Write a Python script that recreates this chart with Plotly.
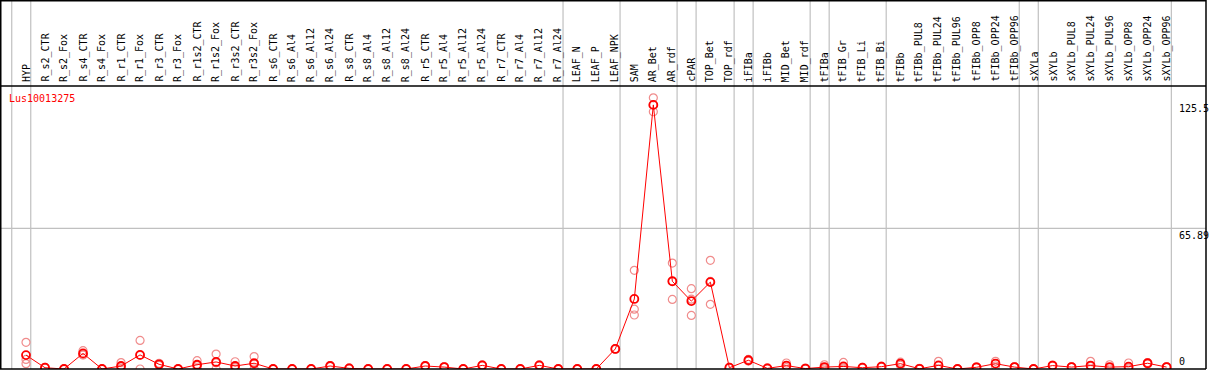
import plotly.graph_objects as go

categories = ["HYP", "R_s2_CTR", "R_s2_Fox", "R_s4_CTR", "R_s4_Fox", "R_r1_CTR", "R_r1_Fox",
              "R_r3_CTR", "R_r3_Fox", "R_r1s2_CTR", "R_r1s2_Fox", "R_r3s2_CTR", "R_r3s2_Fox",
              "R_s6_CTR", "R_s6_Al4", "R_s6_Al12", "R_s6_Al24", "R_s8_CTR", "R_s8_Al4", "R_s8_Al12",
              "R_s8_Al24", "R_r5_CTR", "R_r5_Al4", "R_r5_Al12", "R_r5_Al24", "R_r7_CTR", "R_r7_Al4",
              "R_r7_Al12", "R_r7_Al24", "LEAF_N", "LEAF_P", "LEAF_NPK", "SAM", "AR_Bet", "AR_rdf",
              "cPAR", "TOP_Bet", "TOP_rdf", "iFIBa", "iFIBb", "MID_Bet", "MID_rdf", "tFIBa",
              "tFIB_Gr", "tFIB_Li", "tFIB_Bi", "tFIBb", "tFIBb_PUL8", "tFIBb_PUL24", "tFIBb_PUL96",
              "tFIBb_OPP8", "tFIBb_OPP24", "tFIBb_OPP96", "sXYLa", "sXYLb", "sXYLb_PUL8",
              "sXYLb_PUL24", "sXYLb_PUL96", "sXYLb_OPP8", "sXYLb_OPP24", "sXYLb_OPP96"]

mean_values = [6.5, 0.6, 0, 7.3, 0, 1.4, 6.6, 2.2, 0, 2.0, 3.3, 1.4, 2.7,
               0, 0, 0, 1.4, 0.3, 0, 0, 0, 1.4, 0.9, 0, 1.7, 0, 0, 1.7, 0,
               0, 0, 9.4, 32.8, 123.7, 41.1, 31.8, 40.7, 0.6, 4.1, 0.3, 1.6, 0.2, 0.9,
               1.2, 0.6, 1.1, 2.5, 0.1, 1.7, 0, 0.8, 2.5, 0.9, 0, 1.6, 0.9,
               1.6, 0.9, 1.1, 2.7, 0.9]

rep1 = [12.5, 0.8, 0, 8.6, 0, 3.0, 13.4, 2.7, 0, 3.9, 7.0, 3.4, 5.8,
        0, 0, 0, 1.6, 0.5, 0, 0, 0, 1.6, 1.1, 0, 1.9, 0, 0, 1.9, 0,
        0, 0, 9.6, 46.2, 127.0, 49.6, 37.6, 50.9, 0.8, 4.5, 0.5, 2.8, 0.4, 2.0,
        3.1, 0.8, 1.3, 3.2, 0.3, 3.6, 0, 1.0, 3.6, 1.1, 0, 1.8, 1.1,
        3.6, 2.0, 2.8, 3.0, 1.1]
rep2 = [4.5, 0.6, 0, 6.7, 0, 1.0, 6.4, 2.2, 0, 1.6, 2.9, 0.8, 2.3,
        0, 0, 0, 1.4, 0.3, 0, 0, 0, 1.4, 0.9, 0, 1.7, 0, 0, 1.7, 0,
        0, 0, 9.4, 28.0, 123.7, 41.1, 32.7, 41.0, 0.6, 4.1, 0.3, 1.4, 0.2, 0.6,
        0.5, 0.6, 1.1, 2.5, 0.1, 1.5, 0, 0.8, 2.5, 0.9, 0, 1.6, 0.9,
        1.2, 0.7, 0.5, 2.7, 0.9]
rep3 = [2.5, 0.4, 0, 6.6, 0, 0.2, 0, 1.7, 0, 0.5, 0, 0, 0,
        0, 0, 0, 1.2, 0.1, 0, 0, 0, 1.2, 0.7, 0, 1.5, 0, 0, 1.5, 0,
        0, 0, 9.2, 25.3, 120.5, 32.6, 25.1, 30.3, 0.4, 3.7, 0.1, 0.6, 0, 0.1,
        0, 0.4, 0.9, 1.8, 0, 0, 0, 0.6, 1.4, 0.7, 0, 1.4, 0.7,
        0, 0, 0, 2.4, 0.7]

gene_label = "Lus10013275"
ytick_values = [125.5, 65.89, 0]
ytick_labels = ["125.5", "65.89", "0"]
group_separators = [-0.75, 0.25, 28.25, 31.25, 34.25, 35.25, 37.25, 38.25, 41.25, 42.25,
                    45.25, 52.25, 53.25, 60.25]

W, H = 1209, 370
x0px, step = 26.0, 19.01
plot_top, plot_bot = 86, 369
ppu = 2.135
FONT = "DejaVu Sans Mono"

xs = list(range(len(categories)))
fig = go.Figure()

rx, ry = [], []
for rep in (rep1, rep2, rep3):
    rx += xs
    ry += rep
fig.add_trace(go.Scatter(x=rx, y=ry, mode="markers",
                         marker=dict(symbol="circle-open", size=8, color="rgb(240,140,140)",
                                     line=dict(width=1.2, color="rgb(240,140,140)")),
                         hoverinfo="skip"))
fig.add_trace(go.Scatter(x=xs, y=mean_values, mode="lines+markers",
                         line=dict(color="#ff0000", width=1),
                         marker=dict(symbol="circle-open", size=8, color="#ff0000",
                                     line=dict(width=1.8, color="#ff0000"))))

xr = [-x0px / step, (W - x0px) / step]
yr = [0, (plot_bot - plot_top) / ppu]

shapes = []
for s in group_separators:
    shapes.append(dict(type="line", xref="x", yref="paper", x0=s, x1=s, y0=1 - plot_bot / H, y1=1,
                       line=dict(color="#c0c0c0", width=1.2), layer="below"))
shapes.append(dict(type="line", xref="paper", yref="y", x0=0, x1=1206 / W, y0=65.89, y1=65.89,
                   line=dict(color="#c0c0c0", width=1.2), layer="below"))
for ypx in (0.75, plot_top, plot_bot):
    shapes.append(dict(type="line", xref="paper", yref="paper", x0=0, x1=1206 / W,
                       y0=1 - ypx / H, y1=1 - ypx / H, line=dict(color="black", width=1.5)))
shapes.append(dict(type="line", xref="paper", yref="paper", x0=0.75 / W, x1=0.75 / W,
                   y0=1 - plot_bot / H, y1=1, line=dict(color="black", width=1.5)))
shapes.append(dict(type="line", xref="paper", yref="paper", x0=1206 / W, x1=1206 / W,
                   y0=1 - plot_bot / H, y1=1, line=dict(color="black", width=1.5)))

annotations = []
for i, c in enumerate(categories):
    annotations.append(dict(x=i, y=1 - 84 / H, xref="x", yref="paper", text=c, textangle=-90,
                            xanchor="center", yanchor="bottom", showarrow=False,
                            font=dict(family=FONT, size=10, color="black")))
annotations.append(dict(x=7 / W, y=1 - 91 / H, xref="paper", yref="paper", text=gene_label,
                        xanchor="left", yanchor="top", showarrow=False,
                        font=dict(family=FONT, size=10, color="#ff0000")))
for v, t in zip(ytick_values, ytick_labels):
    annotations.append(dict(x=1177 / W, y=v, xref="paper", yref="y", text=t,
                            xanchor="left", yanchor="bottom" if v == 0 else "top",
                            showarrow=False, font=dict(family=FONT, size=10, color="black")))

fig.update_layout(width=W, height=H, margin=dict(l=0, r=0, t=0, b=0),
                  paper_bgcolor="white", plot_bgcolor="white", showlegend=False,
                  xaxis=dict(range=xr, visible=False, fixedrange=True),
                  yaxis=dict(range=yr, visible=False, fixedrange=True,
                             domain=[1 - plot_bot / H, 1 - plot_top / H]),
                  shapes=shapes, annotations=annotations)

fig.write_html("out.html", config={"displayModeBar": False},
               post_script="document.body.style.margin='0';document.body.style.padding='0';")
